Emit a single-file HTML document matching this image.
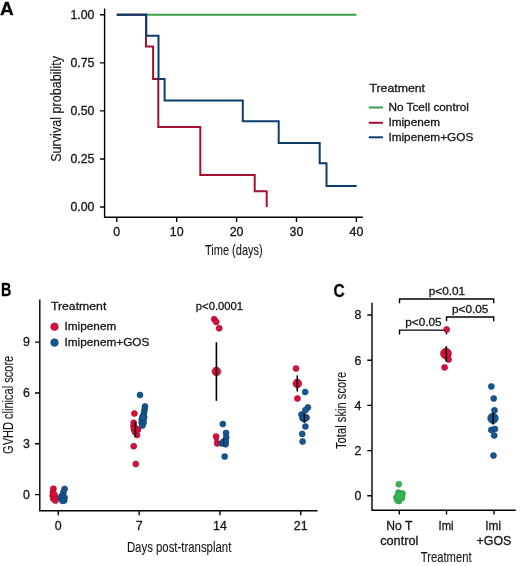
<!DOCTYPE html>
<html><head><meta charset="utf-8">
<style>
html,body{margin:0;padding:0;background:#fff;}
body{width:520px;height:566px;overflow:hidden;}
svg{display:block;will-change:transform;}
text{font-family:"Liberation Sans",sans-serif;fill:#151515;stroke:#151515;stroke-width:0.3px;}
.tk{font-size:12.4px;}
.lg{font-size:11.8px;}
.ti{font-size:14.5px;stroke-width:0.1px;}
.pl{font-size:19px;font-weight:bold;fill:#000;}
.ax{stroke:#000;stroke-width:1.4;fill:none;}
.r{fill:#d7103b;stroke:#9e0b2b;stroke-width:0.6;}
.b{fill:#16568e;stroke:#0d3d6b;stroke-width:0.6;}
.g{fill:#38b456;stroke:#2a9444;stroke-width:0.6;}
.eb{stroke:#000;stroke-width:1.6;}
</style></head>
<body>
<svg width="520" height="566" viewBox="0 0 520 566">
<!-- Panel labels -->
<text class="pl" x="0" y="14.7">A</text>
<text class="pl" x="1" y="296.1" textLength="10.3" lengthAdjust="spacingAndGlyphs">B</text>
<text class="pl" x="333.6" y="296.9" textLength="11.2" lengthAdjust="spacingAndGlyphs">C</text>

<!-- ===== Panel A ===== -->
<path class="ax" d="M104.6,8.5 V217.3 H362.8"/>
<path class="ax" d="M100,14.8 H104.6 M100,62.85 H104.6 M100,110.9 H104.6 M100,158.95 H104.6 M100,207 H104.6"/>
<path class="ax" d="M116.8,217.3 V222 M176.7,217.3 V222 M236.6,217.3 V222 M296.5,217.3 V222 M356.4,217.3 V222"/>
<g class="tk" text-anchor="end">
<text x="94.5" y="19.1">1.00</text>
<text x="94.5" y="67.1">0.75</text>
<text x="94.5" y="115.2">0.50</text>
<text x="94.5" y="163.2">0.25</text>
<text x="94.5" y="211.3">0.00</text>
</g>
<g class="tk" text-anchor="middle">
<text x="116.8" y="236">0</text>
<text x="176.7" y="236">10</text>
<text x="236.6" y="236">20</text>
<text x="296.5" y="236">30</text>
<text x="356.4" y="236">40</text>
</g>
<text class="ti" x="205" y="254.6" textLength="57.7" lengthAdjust="spacingAndGlyphs">Time (days)</text>
<text class="ti" transform="translate(61,161.8) rotate(-90)" x="0" y="0" textLength="105.8" lengthAdjust="spacingAndGlyphs">Survival probability</text>

<!-- KM curves -->
<g fill="none" stroke-width="2" stroke-linejoin="miter">
<path stroke="#3a9f4b" d="M116.8,14.8 H356.4"/>
<path stroke="#a60f2e" d="M116.8,14.8 H146 V46.6 H153.1 V79 H158.3 V127.1 H200.3 V175 H254.7 V191.2 H266.7 V207"/>
<path stroke="#0b3c6e" d="M116.8,14.8 H146.3 V35.8 H158.5 V79 H164.6 V100.6 H242.8 V121.3 H278.7 V143 H319.7 V163.3 H326.5 V186 H356.6"/>
</g>
<!-- Legend A -->
<text class="lg" x="369.4" y="92.1" textLength="55.6" lengthAdjust="spacingAndGlyphs">Treatment</text>
<g stroke-width="2">
<path stroke="#3a9f4b" d="M368.8,107.5 H382.9"/>
<path stroke="#a60f2e" d="M368.8,122.8 H382.9"/>
<path stroke="#0b3c6e" d="M368.8,137.3 H382.9"/>
</g>
<text class="lg" x="388.4" y="110.9">No Tcell control</text>
<text class="lg" x="388.4" y="126.2">Imipenem</text>
<text class="lg" x="388.4" y="140.8">Imipenem+GOS</text>

<!-- ===== Panel B ===== -->
<path class="ax" d="M39.8,299.6 V510.7 H317.5"/>
<path class="ax" d="M35,342.1 H39.8 M35,393 H39.8 M35,443.8 H39.8 M35,494.6 H39.8"/>
<path class="ax" d="M58.3,510.7 V515.2 M139.1,510.7 V515.2 M219.9,510.7 V515.2 M300.7,510.7 V515.2"/>
<g class="tk" text-anchor="end">
<text x="30" y="346.4">9</text>
<text x="30" y="397.3">6</text>
<text x="30" y="448.1">3</text>
<text x="30" y="498.9">0</text>
</g>
<g class="tk" text-anchor="middle">
<text x="58.3" y="530.2">0</text>
<text x="139.1" y="530.2">7</text>
<text x="219.9" y="530.2">14</text>
<text x="300.7" y="530.2">21</text>
</g>
<text class="ti" x="126.9" y="551.5" textLength="104.4" lengthAdjust="spacingAndGlyphs">Days post-transplant</text>
<text class="ti" transform="translate(13,453.9) rotate(-90)" x="0" y="0" textLength="98.1" lengthAdjust="spacingAndGlyphs">GVHD clinical score</text>
<!-- legend B -->
<text class="lg" x="50.9" y="309.8" textLength="55.4" lengthAdjust="spacingAndGlyphs">Treatment</text>
<circle class="r" cx="54.5" cy="326.7" r="3.8"/>
<circle class="b" cx="54.5" cy="342.6" r="3.8"/>
<text class="lg" x="64.5" y="329.9">Imipenem</text>
<text class="lg" x="64.5" y="346.4">Imipenem+GOS</text>
<text class="lg" x="195.8" y="310.2" textLength="47.3" lengthAdjust="spacingAndGlyphs">p&lt;0.0001</text>

<!-- B data day 0 -->
<g class="r">
<circle cx="53.4" cy="488.7" r="3.0"/><circle cx="52.9" cy="492" r="3.0"/><circle cx="52.7" cy="495.5" r="3.0"/>
<circle cx="53.2" cy="498.6" r="3.0"/><circle cx="55.3" cy="500.6" r="3.0"/><circle cx="55.4" cy="497" r="3.0"/><circle cx="54.3" cy="494.5" r="3.0"/>
</g>
<g class="b">
<circle cx="64.6" cy="488.9" r="3.0"/><circle cx="63.4" cy="492.2" r="3.0"/><circle cx="61.6" cy="496" r="3.0"/>
<circle cx="61" cy="498.6" r="3.0"/><circle cx="64.6" cy="497.6" r="3.0"/><circle cx="64.2" cy="500.5" r="3.0"/><circle cx="62.4" cy="500.7" r="3.0"/>
</g>
<!-- day 7 -->
<g class="r">
<circle cx="134.4" cy="413.5" r="3.0"/>
<circle cx="133.7" cy="422.8" r="3.0"/><circle cx="133.5" cy="426" r="3.0"/><circle cx="134" cy="429" r="3.0"/>
<circle cx="138" cy="429.5" r="3.0"/><circle cx="135" cy="432" r="3.0"/><circle cx="137" cy="435" r="3.0"/>
<circle cx="135.4" cy="429.5" r="4.2"/>
<circle cx="133.7" cy="446.2" r="3.0"/><circle cx="135.8" cy="464" r="3.0"/>
</g>
<line class="eb" x1="135.4" y1="421.9" x2="135.4" y2="437"/>
<g class="b">
<circle cx="140" cy="395" r="3.0"/>
<circle cx="145" cy="406.4" r="3.0"/><circle cx="144.6" cy="409.5" r="3.0"/><circle cx="144" cy="412.5" r="3.0"/>
<circle cx="143.6" cy="415.5" r="3.0"/><circle cx="143.8" cy="418.5" r="3.0"/><circle cx="141.8" cy="419.5" r="3.0"/>
<circle cx="141.7" cy="422.8" r="3.0"/><circle cx="143.6" cy="422.5" r="3.0"/><circle cx="142.5" cy="425.6" r="3.0"/>
<circle cx="143.3" cy="417" r="3.8"/>
</g>
<!-- day 14 -->
<g class="r">
<circle cx="214.2" cy="319.2" r="3.0"/><circle cx="216.2" cy="321.9" r="3.0"/><circle cx="219.2" cy="328.3" r="3.0"/>
<circle cx="216.4" cy="371.5" r="4.4"/>
<circle cx="216.1" cy="436.6" r="3.0"/><circle cx="217.2" cy="443.4" r="3.0"/><circle cx="216.6" cy="439.8" r="2.2"/>
</g>
<line class="eb" x1="216.4" y1="342.3" x2="216.4" y2="400.8"/>
<g class="b">
<circle cx="222.8" cy="424.1" r="3.0"/><circle cx="226" cy="433" r="3.0"/><circle cx="226.2" cy="437.3" r="3.0"/>
<circle cx="225.8" cy="441" r="3.0"/><circle cx="225.6" cy="444.3" r="3.0"/><circle cx="221.8" cy="443.4" r="3.0"/>
<circle cx="223.8" cy="442.2" r="3.6"/>
<circle cx="224.7" cy="456.6" r="3.0"/>
</g>
<line class="eb" x1="223.6" y1="438.5" x2="223.6" y2="445.5" style="stroke:#0a2440;stroke-width:1.2"/>
<!-- day 21 -->
<g class="r">
<circle cx="296" cy="368.5" r="3.0"/>
<circle cx="297.3" cy="383.5" r="4.4"/>
<circle cx="297.4" cy="398.5" r="3.0"/>
</g>
<line class="eb" x1="297.3" y1="375.4" x2="297.3" y2="391.5"/>
<g class="b">
<circle cx="305.2" cy="392" r="3.0"/>
<circle cx="307.9" cy="407.4" r="3.0"/><circle cx="305.4" cy="410.2" r="3.0"/><circle cx="301.5" cy="414.5" r="3.0"/>
<circle cx="302.6" cy="418.3" r="3.0"/><circle cx="306.5" cy="417.6" r="3.0"/>
<circle cx="304.4" cy="418" r="4.2"/>
<circle cx="305.4" cy="426.5" r="3.0"/><circle cx="302.2" cy="433.9" r="3.0"/><circle cx="302.6" cy="441.6" r="3.0"/>
</g>
<line class="eb" x1="304.4" y1="413.4" x2="304.4" y2="422.6"/>

<!-- ===== Panel C ===== -->
<path class="ax" d="M372,302.7 V510.3 H515.7"/>
<path class="ax" d="M367.3,315 H372 M367.3,360.2 H372 M367.3,405.4 H372 M367.3,450.6 H372 M367.3,495.8 H372"/>
<path class="ax" d="M399.3,510.3 V514.5 M446.5,510.3 V514.5 M494,510.3 V514.5"/>
<g class="tk" text-anchor="end">
<text x="361.5" y="319.3">8</text>
<text x="361.5" y="364.5">6</text>
<text x="361.5" y="409.7">4</text>
<text x="361.5" y="454.9">2</text>
<text x="361.5" y="500.1">0</text>
</g>
<g class="tk">
<text x="386.3" y="530.4" textLength="26.1" lengthAdjust="spacingAndGlyphs">No T</text>
<text x="380.2" y="545" textLength="38.2" lengthAdjust="spacingAndGlyphs">control</text>
<text x="438.5" y="530.4" textLength="15.1" lengthAdjust="spacingAndGlyphs">Imi</text>
<text x="485.3" y="530.4" textLength="15.9" lengthAdjust="spacingAndGlyphs">Imi</text>
<text x="476.5" y="545" textLength="34.8" lengthAdjust="spacingAndGlyphs">+GOS</text>
</g>
<text class="ti" x="420.8" y="561.9" textLength="50.7" lengthAdjust="spacingAndGlyphs">Treatment</text>
<text class="ti" transform="translate(346,449) rotate(-90)" x="0" y="0" textLength="77.3" lengthAdjust="spacingAndGlyphs">Total skin score</text>
<!-- brackets -->
<path class="ax" d="M399.5,303.3 V299 H493.7 V303.3 M446.5,321.3 V317 H493.7 V321.3 M399.5,334.4 V330.1 H446.5 V334.4"/>
<g class="lg">
<text x="428.7" y="295.3">p&lt;0.01</text>
<text x="452" y="313.3">p&lt;0.05</text>
<text x="405.2" y="325.9">p&lt;0.05</text>
</g>
<!-- C data -->
<g class="g">
<circle cx="398.8" cy="484.2" r="3.0"/>
<circle cx="398.5" cy="492.5" r="3.0"/><circle cx="402.5" cy="493.5" r="3.0"/><circle cx="396.5" cy="497.5" r="3.0"/>
<circle cx="402" cy="498" r="3.0"/><circle cx="399" cy="501" r="3.0"/><circle cx="397.5" cy="500.5" r="3.0"/>
<circle cx="399.5" cy="496" r="4.6"/>
</g>
<g class="r">
<circle cx="446.7" cy="329.5" r="3.0"/>
<circle cx="446" cy="353.6" r="5.5"/>
<circle cx="448.6" cy="359.6" r="3.0"/>
<circle cx="444.6" cy="367.4" r="3.0"/>
</g>
<line class="eb" x1="446.3" y1="346.2" x2="446.3" y2="361.5"/>
<g class="b">
<circle cx="491.3" cy="386.5" r="3.0"/><circle cx="493.7" cy="398.5" r="3.0"/><circle cx="494.5" cy="410.3" r="3.0"/>
<circle cx="493" cy="418.3" r="5.3"/>
<circle cx="491.3" cy="430" r="3.0"/><circle cx="494.9" cy="429" r="3.0"/><circle cx="494.2" cy="435.4" r="3.0"/>
<circle cx="493.5" cy="455.6" r="3.0"/>
</g>
<line class="eb" x1="493.1" y1="412.7" x2="493.1" y2="424.4"/>
</svg>
</body></html>
